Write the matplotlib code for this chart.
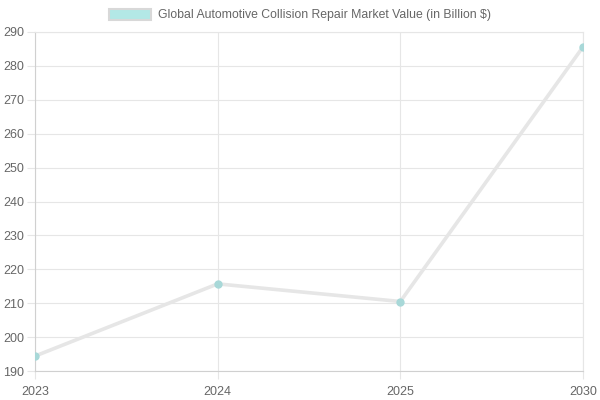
import matplotlib
matplotlib.use("Agg")
import matplotlib.pyplot as plt
from matplotlib.patches import Patch

years = ["2023", "2024", "2025", "2030"]
values = [194.4, 215.7, 210.5, 285.6]
label = "Global Automotive Collision Repair Market Value (in Billion $)"
yticks = list(range(190, 291, 10))

plt.rcParams['font.family'] = ['Liberation Sans', 'DejaVu Sans']

fig = plt.figure(figsize=(6, 4), dpi=100)
ax = fig.add_axes([35/600, 1-371/400, (583-35)/600, (371-32)/400])

x = list(range(len(years)))
ax.plot(x, values, color='#e6e6e6', linewidth=2.6, solid_capstyle='round', zorder=2)
ax.plot(x, values, linestyle='none', marker='o', markersize=5,
        markerfacecolor='#a8d8d8', markeredgecolor='#a8d8d8', zorder=3)

ax.set_xlim(0, len(years) - 1)
ax.set_ylim(190, 290)
ax.set_xticks(x)
ax.set_xticklabels(years)
ax.set_yticks(yticks)
ax.grid(True, color='#e6e6e6', linewidth=0.8)
ax.set_axisbelow(True)
for s in ax.spines.values():
    s.set_color('#e6e6e6')
    s.set_linewidth(0.8)
ax.spines['left'].set_color('#d0d0d0')
ax.spines['bottom'].set_color('#d0d0d0')
ax.tick_params(axis='both', colors='#e6e6e6', length=6, width=0.8,
               labelcolor='#666666', labelsize=9)
ax.tick_params(axis='y', pad=2)
ax.tick_params(axis='x', pad=4.5)

handle = Patch(facecolor='#b3e8e6', edgecolor='#d8d8d8', linewidth=1.5)
fig.legend([handle], [label], loc='upper center', bbox_to_anchor=(0.5, 1.005),
           frameon=False, fontsize=8.8, handlelength=3.4, handleheight=0.95,
           handletextpad=0.55, labelcolor='#666666')

fig.savefig('out.png', dpi=100)
